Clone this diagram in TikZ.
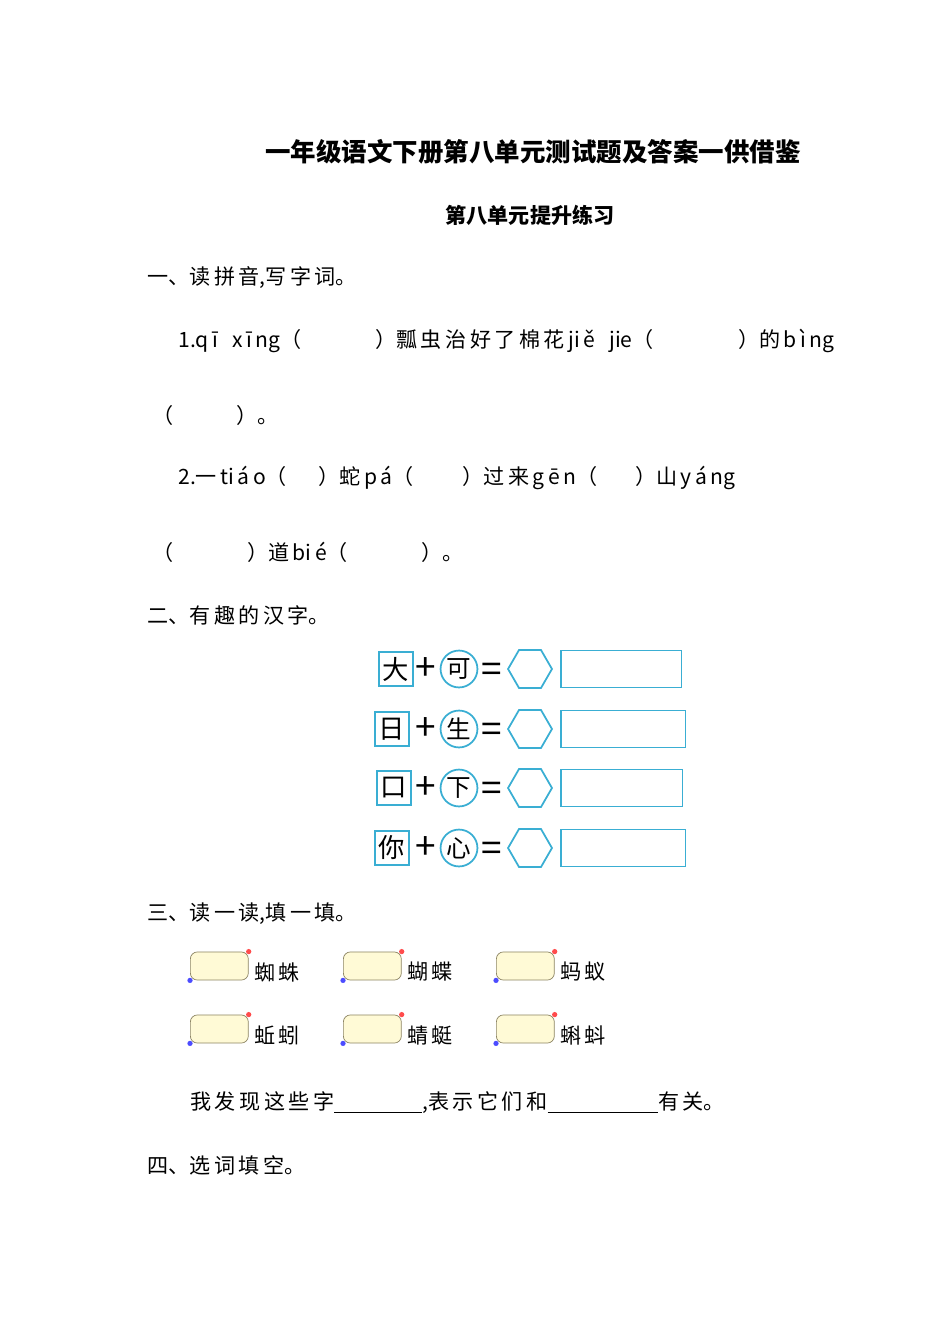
\documentclass[tikz,border=0pt]{standalone}
\usepackage{fontspec}
\setmainfont{Noto Sans CJK SC}
\usetikzlibrary{shapes.geometric,positioning}
\definecolor{boxblue}{HTML}{3AAED3}
\definecolor{cream}{HTML}{FFFAD6}
\definecolor{pencil}{HTML}{8C8463}
\tikzset{
  line/.style={anchor=west,inner sep=0pt,font=\fontsize{12}{14}\selectfont},
  sq/.style={draw=boxblue,line width=1pt,minimum size=19pt,inner sep=0pt,font=\fontsize{15}{15}\selectfont},
  ring/.style={circle,draw=boxblue,line width=1pt,minimum size=21pt,inner sep=0pt,font=\fontsize{14}{14}\selectfont},
  hex/.style={regular polygon,regular polygon sides=6,draw=boxblue,line width=1pt,minimum size=25pt,inner sep=0pt},
  ans/.style={draw=boxblue,line width=1pt,minimum height=21pt,inner sep=0pt},
  op/.style={inner sep=0pt,font=\fontsize{21}{21}\selectfont},
  tag/.style={draw=pencil,fill=cream,rounded corners=4pt,minimum width=33pt,minimum height=16pt,inner sep=0pt}
}
\begin{document}
\begin{tikzpicture}[x=0.02cm,y=-0.02cm]
\useasboundingbox (0,0) rectangle (950,1344);
% headings
\node[font=\bfseries\fontsize{14.5}{16}\selectfont] (title) at (533,152) {一年级语文下册第八单元测试题及答案一供借鉴};
\node[font=\bfseries\fontsize{12}{14}\selectfont] (sub) at (530,215) {第八单元提升练习};
% part one
\node[line] (p1) at (147,278) {一、读\,拼\,音,写\,字\,词。};
\node[line] (q1) at (178,341) {1.q\,ī\ \ \ x\,ī\,ng（\hspace{3.5em}）瓢\,虫\,治\,好\,了\,棉\,花\,ji\,ě\ \ \ jie（\hspace{4em}）的\,b\,ì\,ng};
\node[line] (q1b) at (152,415) {（\hspace{3em}）。};
\node[line] (q2) at (178,478) {2.一\,ti\,á\,o（\hspace{1.5em}）蛇\,p\,á（\hspace{2.3em}）过\,来\,g\,ē\,n（\hspace{1.8em}）山\,y\,á\,ng};
\node[line] (q2b) at (152,552) {（\hspace{3.5em}）道\,bi\,é（\hspace{3.5em}）。};
% part two
\node[line] (p2) at (147,615) {二、有\,趣\,的\,汉\,字。};
\foreach \y/\a/\b/\dx/\w [count=\i] in {669/大/可/0/121, 729/日/生/-4/125, 788/口/下/-2/122, 848/你/心/-4/125}{
  \node[sq] (a\i) at (396+\dx,\y) {\a};
  \node[op] (plus\i) at (426,\y) {+};
  \node[ring] (b\i) at (459,\y) {\b};
  \node[op] (eq\i) at (492,\y+4) {=};
  \node[hex] (h\i) at (530,\y) {};
  \node[ans,anchor=west,minimum width=\w*0.567pt] (r\i) at (560,\y) {};
}
% part three
\node[line] (p3) at (147,914) {三、读\,一\,读,填\,一\,填。};
\foreach \x/\w [count=\i] in {190/蜘\,蛛, 343/蝴\,蝶, 496/蚂\,蚁}{
  \node[tag,anchor=west] (t\i) at (\x,966) {};
  \node[line] (w\i) at (\x+64,972) {\w};
  \fill[red!70] (t\i.north east) circle (1.5pt);
  \fill[blue!70] (t\i.south west) circle (1.5pt);
}
\foreach \x/\w [count=\i] in {190/蚯\,蚓, 343/蜻\,蜓, 496/蝌\,蚪}{
  \node[tag,anchor=west] (s\i) at (\x,1029) {};
  \node[line] (v\i) at (\x+64,1035) {\w};
  \fill[red!70] (s\i.north east) circle (1.5pt);
  \fill[blue!70] (s\i.south west) circle (1.5pt);
}
\node[line] (find) at (190,1103) {我\,发\,现\,这\,些\,字\rule[-2pt]{50pt}{0.6pt},表\,示\,它\,们\,和\rule[-2pt]{63pt}{0.6pt}有\,关。};
% part four
\node[line] (p4) at (147,1165) {四、选\,词\,填\,空。};
\end{tikzpicture}
\end{document}
